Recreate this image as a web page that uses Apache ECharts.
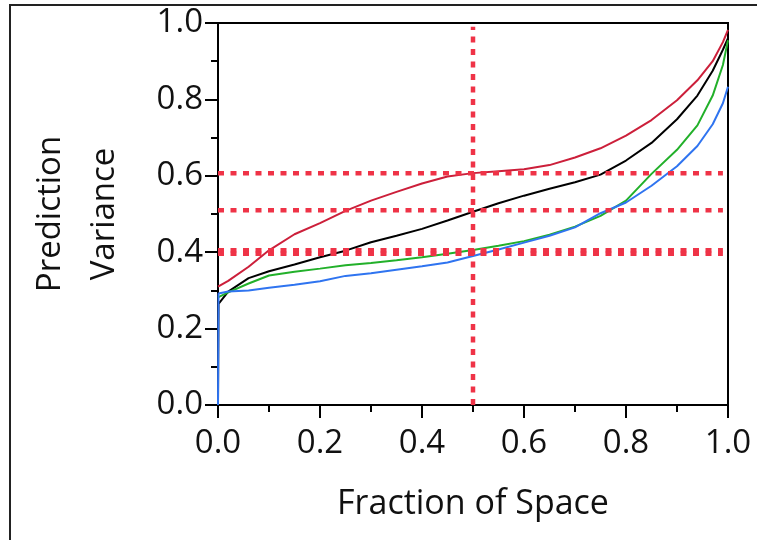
<!DOCTYPE html>
<html>
<head>
<meta charset="utf-8">
<script src="https://cdn.jsdelivr.net/npm/echarts@6/dist/echarts.min.js"></script>
<style>
  html, body { margin: 0; padding: 0; background: #fff; }
  #chart { width: 757px; height: 540px; }
</style>
</head>
<body>
<div id="chart"></div>
<script>
// fraction of design space (x) and prediction variance for each design
const fraction = [0, 0.02, 0.06, 0.1, 0.15, 0.2, 0.25, 0.3, 0.35, 0.4, 0.45, 0.5,
  0.55, 0.6, 0.65, 0.7, 0.75, 0.8, 0.85, 0.9, 0.94, 0.97, 0.99, 1.0]
const redVar = [0.31, 0.325, 0.362, 0.405, 0.447, 0.476, 0.508, 0.535, 0.558, 0.58, 0.598, 0.607,
  0.612, 0.617, 0.628, 0.648, 0.672, 0.705, 0.746, 0.798, 0.85, 0.9, 0.95, 0.982]
const blackVar = [0.265, 0.297, 0.332, 0.35, 0.368, 0.387, 0.404, 0.426, 0.443, 0.461, 0.483, 0.506,
  0.528, 0.548, 0.566, 0.583, 0.603, 0.64, 0.686, 0.748, 0.81, 0.875, 0.93, 0.96]
const greenVar = [0.282, 0.295, 0.318, 0.339, 0.349, 0.357, 0.366, 0.372, 0.379, 0.387, 0.396, 0.406,
  0.417, 0.429, 0.446, 0.467, 0.495, 0.535, 0.605, 0.668, 0.732, 0.81, 0.89, 0.955]
const blueVar = [0.292, 0.297, 0.3, 0.307, 0.315, 0.324, 0.338, 0.345, 0.354, 0.363, 0.373, 0.39,
  0.407, 0.425, 0.443, 0.465, 0.502, 0.53, 0.574, 0.625, 0.678, 0.735, 0.79, 0.833]

// dotted reference lines
const refX = 0.5
const refY = [0.607, 0.51, 0.405, 0.396]
const refEnd = 0.99

const xTicks = [0, 0.2, 0.4, 0.6, 0.8, 1.0]
const yTicks = [0, 0.2, 0.4, 0.6, 0.8, 1.0]

const FONT = 'Open Sans'
const REF_COLOR = '#ef3347'

function pairs(xs, ys, dropToZero) {
  const out = xs.map((x, i) => [x, ys[i]])
  if (dropToZero) {
    out[0] = [0.001, ys[0]]
    out.unshift([0, 0])
  }
  return out
}

function curve(name, color, data) {
  return {
    name: name,
    type: 'line',
    data: data,
    symbol: 'none',
    smooth: false,
    z: 3,
    lineStyle: { color: color, width: 2 }
  }
}

function refLine(data) {
  return {
    type: 'line',
    data: data,
    symbol: 'none',
    silent: true,
    z: 4,
    lineStyle: { color: REF_COLOR, width: 4.5, type: [6, 6.5], cap: 'butt' }
  }
}

const series = [
  curve('red', '#cc1f3a', pairs(fraction, redVar, false)),
  curve('black', '#000000', pairs(fraction, blackVar, true)),
  curve('green', '#22b02a', pairs(fraction, greenVar, false)),
  curve('blue', '#2f74f0', pairs(fraction, blueVar, true))
]
refY.forEach(y => series.push(refLine([[0, y], [refEnd, y]])))
series.push(refLine([[refX, 0], [refX, refEnd]]))

const chart = echarts.init(document.getElementById('chart'))
chart.setOption({
  backgroundColor: '#fff',
  animation: false,
  graphic: [{
    type: 'rect',
    shape: { x: 10, y: 5, width: 800, height: 600 },
    style: { fill: null, stroke: '#222', lineWidth: 2 },
    silent: true
  }],
  grid: {
    left: 218, right: 29, top: 23, bottom: 135,
    outerBoundsMode: 'none',
    containLabel: false,
    show: true, borderColor: '#000', borderWidth: 2
  },
  xAxis: {
    type: 'value',
    min: xTicks[0],
    max: xTicks[xTicks.length - 1],
    interval: 0.2,
    name: 'Fraction of Space',
    nameLocation: 'middle',
    nameGap: 82,
    nameTextStyle: { fontFamily: FONT, fontSize: 34, color: '#111' },
    axisLine: { lineStyle: { color: '#000', width: 2 } },
    axisTick: { length: 13, lineStyle: { color: '#000', width: 2 } },
    minorTick: { show: true, splitNumber: 2, length: 7, lineStyle: { color: '#000', width: 2 } },
    splitLine: { show: false },
    axisLabel: {
      margin: 22, fontFamily: FONT, fontSize: 33, color: '#111',
      formatter: v => v.toFixed(1)
    }
  },
  yAxis: {
    type: 'value',
    min: yTicks[0],
    max: yTicks[yTicks.length - 1],
    interval: 0.2,
    name: 'Prediction\nVariance',
    nameLocation: 'middle',
    nameRotate: 90,
    nameGap: 86,
    nameTextStyle: { fontFamily: FONT, fontSize: 33, color: '#111', lineHeight: 54 },
    axisLine: { lineStyle: { color: '#000', width: 2 } },
    axisTick: { length: 13, lineStyle: { color: '#000', width: 2 } },
    minorTick: { show: true, splitNumber: 2, length: 7, lineStyle: { color: '#000', width: 2 } },
    splitLine: { show: false },
    axisLabel: {
      margin: 15, fontFamily: FONT, fontSize: 33, color: '#111',
      formatter: v => v.toFixed(1)
    }
  },
  series: series
})
</script>
</body>
</html>
